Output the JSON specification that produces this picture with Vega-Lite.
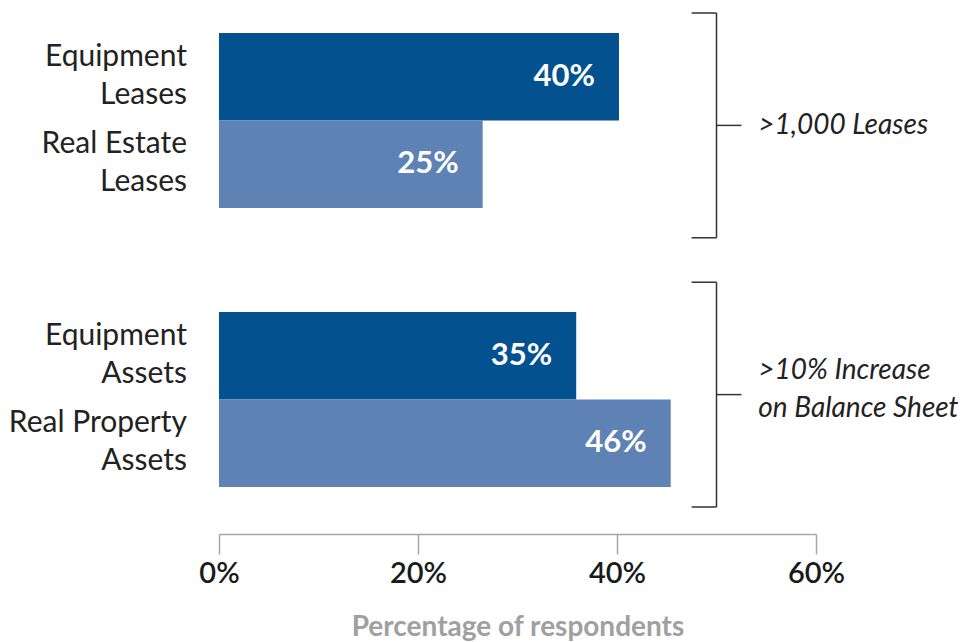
{
  "$schema": "https://vega.github.io/schema/vega-lite/v6.json",
  "width": 597,
  "height": 494,
  "autosize": {"type": "none"},
  "padding": {"left": 219, "top": 13, "right": 151, "bottom": 135},
  "background": "white",
  "config": {
    "view": {"stroke": null},
    "font": "Lato"
  },
  "datasets": {
    "bars": [
      {"group": ">1,000 Leases", "type": "Equipment", "label": "Equipment\nLeases", "value": 40.2, "text": "40%"},
      {"group": ">1,000 Leases", "type": "Real", "label": "Real Estate\nLeases", "value": 26.5, "text": "25%"},
      {"group": ">10% Increase on Balance Sheet", "type": "Equipment", "label": "Equipment\nAssets", "value": 35.9, "text": "35%"},
      {"group": ">10% Increase on Balance Sheet", "type": "Real", "label": "Real Property\nAssets", "value": 45.4, "text": "46%"}
    ],
    "groups": [
      {"group": ">1,000 Leases", "note": ">1,000 Leases", "lines": 1},
      {"group": ">10% Increase on Balance Sheet", "note": ">10% Increase\non Balance Sheet", "lines": 2}
    ]
  },
  "resolve": {"scale": {"y": "independent"}},
  "encoding": {
    "y": {
      "field": "group",
      "type": "nominal",
      "axis": null,
      "scale": {
        "domain": [">1,000 Leases", ">10% Increase on Balance Sheet"],
        "paddingInner": 0.3728,
        "paddingOuter": 0.0717
      }
    }
  },
  "layer": [
    {
      "data": {"name": "bars"},
      "mark": {"type": "bar"},
      "encoding": {
        "yOffset": {"field": "type", "type": "nominal", "scale": {"domain": ["Equipment", "Real"], "paddingInner": 0, "paddingOuter": 0}},
        "x": {
          "field": "value",
          "type": "quantitative",
          "scale": {"domain": [0, 60], "nice": false, "zero": true},
          "axis": {
            "values": [0, 20, 40, 60],
            "labelExpr": "datum.value + '%'",
            "offset": 27,
            "grid": false,
            "domainColor": "#a6a6a6",
            "domainWidth": 1.5,
            "tickColor": "#a6a6a6",
            "tickWidth": 1.5,
            "tickSize": 20,
            "labelFont": "Lato",
            "labelFontSize": 29,
            "labelFontWeight": 600,
            "labelColor": "#1a1a1a",
            "labelPadding": 5,
            "labelFlush": false,
            "title": "Percentage of respondents",
            "titleFont": "Lato",
            "titleFontSize": 28,
            "titleFontWeight": "bold",
            "titleColor": "#a0a0a0",
            "titlePadding": 25
          }
        },
        "color": {
          "field": "type",
          "type": "nominal",
          "scale": {"domain": ["Equipment", "Real"], "range": ["#03518F", "#5F82B5"]},
          "legend": null
        }
      }
    },
    {
      "data": {"name": "bars"},
      "mark": {"type": "text", "align": "right", "baseline": "middle", "dx": -24, "fontSize": 31, "fontWeight": "bold", "color": "white", "font": "Lato"},
      "encoding": {
        "yOffset": {"field": "type", "type": "nominal"},
        "x": {"field": "value", "type": "quantitative"},
        "text": {"field": "text"}
      }
    },
    {
      "data": {"name": "bars"},
      "mark": {"type": "text", "align": "right", "baseline": "middle", "dx": -32, "dy": -20, "fontSize": 30, "lineHeight": 38, "lineBreak": "\n", "color": "#222222", "font": "Lato", "fontWeight": "normal"},
      "encoding": {
        "yOffset": {"field": "type", "type": "nominal"},
        "x": {"datum": 0},
        "text": {"field": "label"}
      }
    },
    {
      "data": {"name": "groups"},
      "encoding": {
        "y": {
          "field": "group",
          "type": "nominal",
          "axis": null,
          "scale": {
            "domain": [">1,000 Leases", ">10% Increase on Balance Sheet"],
            "paddingInner": 0.165,
            "paddingOuter": 0
          }
        }
      },
      "layer": [
        {
          "mark": {"type": "rule", "color": "#333333", "strokeWidth": 1.5},
          "encoding": {
            "x": {"datum": 50},
            "y": {"field": "group", "type": "nominal", "bandPosition": 0},
            "y2": {"field": "group", "bandPosition": 1}
          }
        },
        {
          "mark": {"type": "rule", "color": "#333333", "strokeWidth": 1.5},
          "encoding": {
            "x": {"datum": 47.5},
            "x2": {"datum": 50},
            "y": {"field": "group", "type": "nominal", "bandPosition": 0}
          }
        },
        {
          "mark": {"type": "rule", "color": "#333333", "strokeWidth": 1.5},
          "encoding": {
            "x": {"datum": 47.5},
            "x2": {"datum": 50},
            "y": {"field": "group", "type": "nominal", "bandPosition": 1}
          }
        },
        {
          "mark": {"type": "rule", "color": "#333333", "strokeWidth": 1.5},
          "encoding": {
            "x": {"datum": 50},
            "x2": {"datum": 52.5},
            "y": {"field": "group", "type": "nominal", "bandPosition": 0.5}
          }
        },
        {
          "transform": [{"filter": "datum.lines == 1"}],
          "mark": {"type": "text", "align": "left", "baseline": "middle", "dy": 1, "fontSize": 28, "fontStyle": "italic", "lineHeight": 38, "lineBreak": "\n", "color": "#222222", "font": "Lato", "fontWeight": "normal"},
          "encoding": {
            "x": {"datum": 54.2},
            "y": {"field": "group", "type": "nominal", "bandPosition": 0.5},
            "text": {"field": "note"}
          }
        },
        {
          "transform": [{"filter": "datum.lines == 2"}],
          "mark": {"type": "text", "align": "left", "baseline": "middle", "dy": -24, "fontSize": 28, "fontStyle": "italic", "lineHeight": 38, "lineBreak": "\n", "color": "#222222", "font": "Lato", "fontWeight": "normal"},
          "encoding": {
            "x": {"datum": 54.2},
            "y": {"field": "group", "type": "nominal", "bandPosition": 0.5},
            "text": {"field": "note"}
          }
        }
      ]
    }
  ]
}
